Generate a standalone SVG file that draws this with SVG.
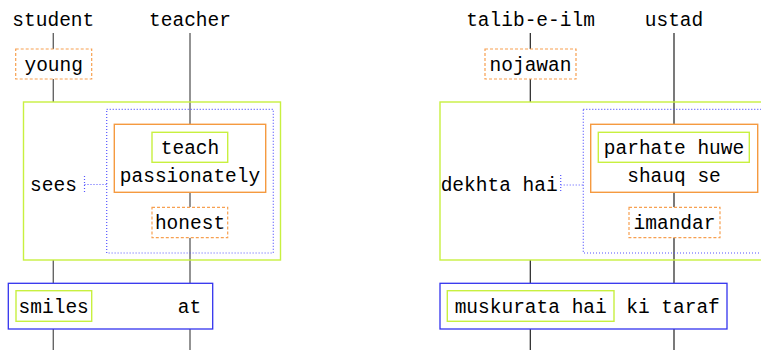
<svg xmlns="http://www.w3.org/2000/svg" width="761" height="350" viewBox="0 0 761 350">
<style>
text{font-family:"Liberation Mono","DejaVu Sans Mono",monospace;font-size:19.5px;fill:#000;text-anchor:middle}
.l{fill:none;stroke:#666;stroke-width:1.4}
.r{fill:none;stroke:#222;stroke-width:1.2}
.dash{fill:#fff;stroke:#f7a050;stroke-width:1.2;stroke-dasharray:3,2}
.org{fill:#fff;stroke:#f59a40;stroke-width:1.4}
.grn{fill:none;stroke:#c8f040;stroke-width:1.4}
.dot{fill:none;stroke:#5555ff;stroke-width:1.2;stroke-dasharray:1,2}
.blu{fill:#fff;stroke:#3333ee;stroke-width:1.3}
</style>
<rect width="761" height="350" fill="#fff"/>
<g id="connectors">
<path class="l" d="M53.3,33V49M53.3,79V102M53.3,260V283.3M53.3,329V350M190,33V124.3M190,192.3V207.3M190,237.7V283.3M190,329V350"/>
<path class="r" d="M530.3,33V49M530.3,79V102M530.3,260V283.3M530.3,329V350M674,33V124.3M674,192.3V207.3M674,237.7V283.3M674,329V350"/>
<path class="dot" d="M84.5,176V193M84.5,184.5H106.7"/>
<path class="dot" d="M560.7,175V191M560.7,185H583.3"/>
</g>
<g id="student"><text x="53.3" y="26">student</text></g>
<g id="teacher"><text x="190" y="26">teacher</text></g>
<g id="young"><rect class="dash" x="15.7" y="49" width="76" height="30"/><text x="53.7" y="71">young</text></g>
<g id="sees-frame"><rect class="grn" x="23.5" y="102" width="257" height="158"/>
<text x="53.5" y="190.5">sees</text></g>
<g id="sees-object"><rect class="dot" x="106.7" y="109.3" width="166.6" height="143.7"/></g>
<g id="teach-passionately"><rect class="org" x="114.3" y="124.3" width="151.4" height="68"/>
<rect class="grn" x="152" y="132.3" width="75.7" height="30"/>
<text x="190" y="154.3">teach</text><text x="190" y="181.7">passionately</text></g>
<g id="honest"><rect class="dash" x="152" y="207.3" width="75.7" height="30.4"/><text x="190" y="229.3">honest</text></g>
<g id="smiles-at"><rect class="blu" x="8.3" y="283.3" width="204.4" height="45.7"/>
<rect class="grn" x="16" y="290.7" width="75.7" height="30.6"/>
<text x="53.7" y="312.7">smiles</text><text x="189.5" y="312.7">at</text></g>

<g id="talib-e-ilm"><text x="530.5" y="26">talib-e-ilm</text></g>
<g id="ustad"><text x="674" y="26">ustad</text></g>
<g id="nojawan"><rect class="dash" x="485" y="49" width="91" height="30"/><text x="530.5" y="71">nojawan</text></g>
<g id="dekhta-frame"><rect class="grn" x="440" y="102" width="330" height="158"/>
<text x="499.2" y="190.5">dekhta hai</text></g>
<g id="dekhta-object"><rect class="dot" x="583.3" y="109.3" width="190" height="143.7"/></g>
<g id="parhate-huwe-shauq-se"><rect class="org" x="590.7" y="124.3" width="167" height="68"/>
<rect class="grn" x="598.3" y="132.3" width="151" height="30"/>
<text x="674" y="154.3">parhate huwe</text><text x="674" y="181.7">shauq se</text></g>
<g id="imandar"><rect class="dash" x="629" y="207.3" width="91" height="30.4"/><text x="674.5" y="229.3">imandar</text></g>
<g id="muskurata-ki-taraf"><rect class="blu" x="440" y="283.3" width="287" height="45.7"/>
<rect class="grn" x="447.3" y="290.7" width="166.7" height="30.6"/>
<text x="530.7" y="312.7">muskurata hai</text><text x="673" y="312.7">ki taraf</text></g>
</svg>
